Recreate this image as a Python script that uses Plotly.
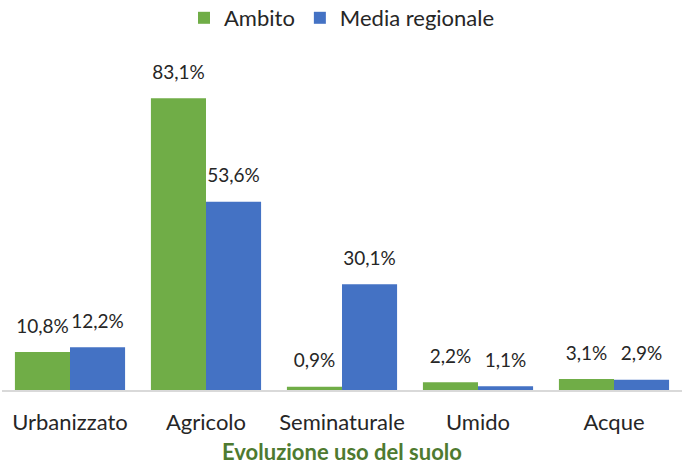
import plotly.graph_objects as go

categories = ["Urbanizzato", "Agricolo", "Seminaturale", "Umido", "Acque"]
ambito = [10.8, 83.1, 0.9, 2.2, 3.1]
media_regionale = [12.2, 53.6, 30.1, 1.1, 2.9]
series_names = ["Ambito", "Media regionale"]
colors = ["#70AD47", "#4472C4"]

FONT = "Lato, Open Sans, sans-serif"
TEXT = "#262626"
GAP = 0.19

def fmt(v):
    return f"{v:.1f}".replace(".", ",") + "%"

fig = go.Figure()
for i, (name, vals, col) in enumerate(zip(series_names, [ambito, media_regionale], colors)):
    fig.add_trace(go.Bar(
        x=categories, y=vals, name=name, marker_color=col,
        offsetgroup=str(i), marker_line_width=0,
    ))
for i, vals in enumerate([ambito, media_regionale]):
    fig.add_trace(go.Scatter(
        x=categories, y=vals, mode="markers+text", offsetgroup=str(i),
        marker=dict(size=22, opacity=0), text=[fmt(v) for v in vals],
        textposition="top center", showlegend=False, hoverinfo="skip",
        textfont=dict(size=19, color=TEXT, family=FONT), cliponaxis=False,
    ))

fig.update_layout(
    width=682, height=465,
    margin=dict(l=2, r=0, t=74, b=75),
    paper_bgcolor="white", plot_bgcolor="white",
    barmode="group", bargap=GAP, bargroupgap=0,
    scattermode="group", scattergap=GAP,
    font=dict(family=FONT, size=22, color=TEXT),
    legend=dict(orientation="h", x=0.5, xanchor="center", y=1 - 18 / 465, yanchor="middle",
                yref="container", font=dict(size=22), traceorder="normal"),
    showlegend=True,
)
fig.update_xaxes(showline=True, linecolor="#D9D9D9", linewidth=1.5, ticks="",
                 tickfont=dict(size=22, color=TEXT), ticklabelstandoff=12,
                 automargin=True,
                 title=dict(text="<b>Evoluzione uso del suolo</b>", standoff=14,
                            font=dict(size=22, color="#4E7A30")))
fig.update_yaxes(visible=False, range=[0, 90])

fig.write_html("out.html", config={"displayModeBar": False},
               post_script="document.body.style.margin='0';")
